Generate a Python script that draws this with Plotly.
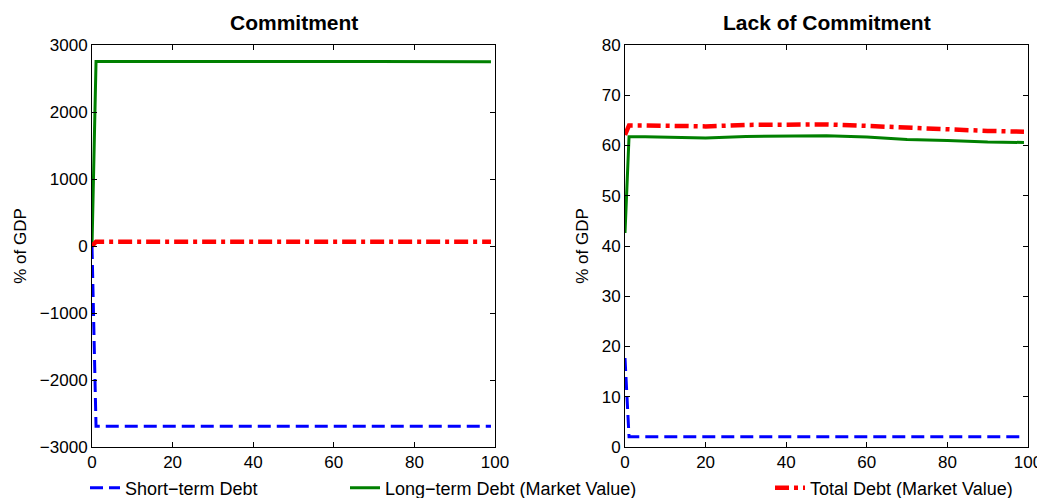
import plotly.graph_objects as go

# ---- data ----
t = [0, 1, 5, 10, 20, 30, 40, 50, 60, 70, 80, 90, 99]

# Commitment
c_short = [0, -2690, -2690, -2690, -2690, -2690, -2690, -2690, -2690, -2690, -2690, -2690, -2690]
c_long = [0, 2752, 2752, 2751, 2750, 2750, 2751, 2752, 2753, 2752, 2751, 2750, 2750]
c_total = [0, 64, 64, 64, 64, 64, 64, 64, 64, 64, 64, 64, 64]

# Lack of commitment
l_short = [17.7, 2.05, 2.05, 2.05, 2.05, 2.05, 2.05, 2.05, 2.05, 2.05, 2.05, 2.05, 2.05]
l_long = [42.6, 61.75, 61.75, 61.7, 61.5, 61.8, 61.95, 61.95, 61.7, 61.2, 61.0, 60.7, 60.6]
l_total = [62.1, 64.0, 64.0, 63.9, 63.8, 64.1, 64.2, 64.2, 63.9, 63.5, 63.2, 62.9, 62.75]

x_ticks = [0, 20, 40, 60, 80, 100]
left_yticks = [-3000, -2000, -1000, 0, 1000, 2000, 3000]
right_yticks = [0, 10, 20, 30, 40, 50, 60, 70, 80]

names = ["Short\u2212term Debt", "Long\u2212term Debt (Market Value)", "Total Debt (Market Value)"]
colors = ["#0000ff", "#008000", "#ff0000"]
dashes = ["13px,6px", "solid", "14px,5px,4px,5px"]
widths = [3, 3, 4.5]

FONT = "Liberation Sans, Arial, Helvetica, sans-serif"
OFF = 8  # page body margin
W, H = 1045 - OFF, 498 - OFF


def px(x):
    return x - OFF


TOP, BOT = px(45), px(447)

fig = go.Figure()

left = [c_short, c_long, c_total]
right = [l_short, l_long, l_total]
legends = ["legend", "legend2", "legend3"]
for i in range(3):
    fig.add_trace(go.Scatter(x=t, y=left[i], mode="lines", name=names[i],
                             line=dict(color=colors[i], dash=dashes[i], width=widths[i]),
                             xaxis="x", yaxis="y", legend=legends[i], showlegend=True))
    fig.add_trace(go.Scatter(x=t, y=right[i], mode="lines", name=names[i],
                             line=dict(color=colors[i], dash=dashes[i], width=widths[i]),
                             xaxis="x2", yaxis="y2", showlegend=False))

ax_common = dict(showgrid=False, zeroline=False, showline=True, linecolor="black",
                 linewidth=1, mirror="allticks", ticks="inside", ticklen=5,
                 tickcolor="black", automargin=False,
                 tickfont=dict(size=17, color="black", family=FONT))

ph = BOT - TOP
leg_y = -(px(488) - BOT) / ph
leg_common = dict(orientation="h", y=leg_y, xanchor="left", yanchor="middle",
                  bgcolor="rgba(0,0,0,0)", font=dict(size=18, family=FONT), itemwidth=30)

fig.update_layout(
    width=W, height=H,
    margin=dict(l=0, r=0, t=TOP, b=H - BOT, autoexpand=False),
    paper_bgcolor="white", plot_bgcolor="white",
    font=dict(family=FONT, color="black", size=17),
    xaxis=dict(domain=[px(92) / W, px(495) / W], range=[0, 100], tickvals=x_ticks, anchor="y", **ax_common),
    yaxis=dict(domain=[0, 1], range=[-3000, 3000], tickvals=left_yticks, anchor="x",
               title=dict(text="% of GDP", font=dict(size=17), standoff=8), **ax_common),
    xaxis2=dict(domain=[px(625) / W, px(1028) / W], range=[0, 100], tickvals=x_ticks, anchor="y2", **ax_common),
    yaxis2=dict(domain=[0, 1], range=[0, 80], tickvals=right_yticks, anchor="x2",
                title=dict(text="% of GDP", font=dict(size=17), standoff=8), **ax_common),
    legend=dict(x=px(125 - 40) / W, **leg_common),
    legend2=dict(x=px(385 - 40) / W, **leg_common),
    legend3=dict(x=px(810 - 40) / W, **leg_common),
    annotations=[
        dict(text="<b>Commitment</b>", x=px((92 + 495) / 2) / W, y=1 + (TOP - px(22)) / ph, xref="paper",
             yref="paper", showarrow=False, font=dict(size=21, family=FONT), xanchor="center", yanchor="middle"),
        dict(text="<b>Lack of Commitment</b>", x=px((625 + 1028) / 2) / W, y=1 + (TOP - px(22)) / ph,
             xref="paper", yref="paper", showarrow=False, font=dict(size=21, family=FONT),
             xanchor="center", yanchor="middle"),
    ],
)

fig.write_html("out.html")
